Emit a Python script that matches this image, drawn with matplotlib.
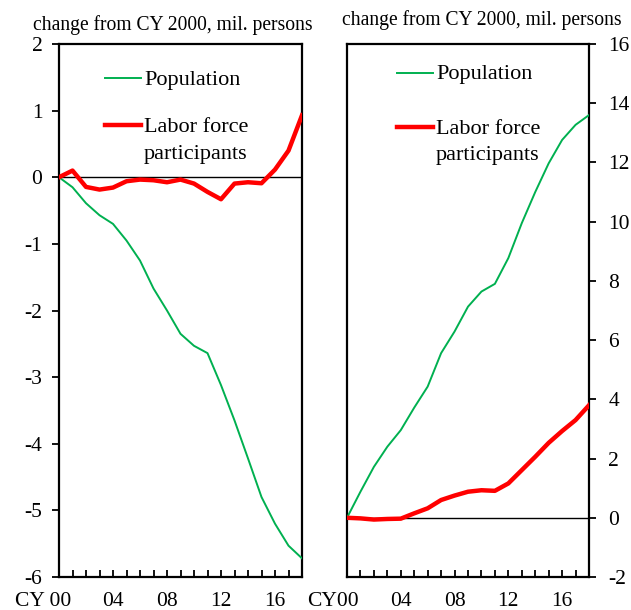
import numpy as np
import matplotlib
matplotlib.use("Agg")
import matplotlib.pyplot as plt
import matplotlib.transforms as mtransforms

plt.rcParams['font.family'] = ['Liberation Serif', 'DejaVu Serif']
plt.rcParams['axes.unicode_minus'] = False

# calendar years 2000..2018, change from CY2000 in millions of persons
years = np.arange(2000, 2019)

left_population = [0, -0.15, -0.39, -0.57, -0.70, -0.95, -1.25, -1.67, -2.00, -2.35,
                   -2.53, -2.64, -3.12, -3.65, -4.22, -4.80, -5.20, -5.53, -5.72]
left_labor = [0, 0.10, -0.145, -0.185, -0.155, -0.06, -0.035, -0.045, -0.075, -0.035,
              -0.095, -0.22, -0.33, -0.095, -0.075, -0.09, 0.115, 0.40, 0.93]

right_population = [0, 0.88, 1.72, 2.40, 2.96, 3.72, 4.43, 5.56, 6.29, 7.13,
                    7.64, 7.90, 8.77, 9.95, 11.0, 11.97, 12.76, 13.27, 13.6]
right_labor = [0, -0.02, -0.06, -0.04, -0.03, 0.15, 0.32, 0.60, 0.75, 0.88,
               0.93, 0.91, 1.16, 1.61, 2.06, 2.53, 2.93, 3.30, 3.80]

xtick_years = [2000, 2004, 2008, 2012, 2016]
left_xlabels = ['CY 00', '04', '08', '12', '16']
right_xlabels = ['CY00', '04', '08', '12', '16']
unit_label = 'change from CY 2000, mil. persons'

GREEN = '#00b050'
RED = '#ff0000'

fig = plt.figure(figsize=(6.31, 6.10), dpi=100)
W, H = 631, 610
ax1 = fig.add_axes([59 / W, 33 / H, 243 / W, 533 / H])
ax2 = fig.add_axes([347 / W, 33 / H, 242 / W, 533 / H])


def style(ax, ylim, yticks, labels, yside):
    ax.set_xlim(2000, 2018)
    ax.set_ylim(*ylim)
    ax.axhline(0, color='black', lw=1.0, zorder=1)
    for s in ax.spines.values():
        s.set_linewidth(1.6)
    ax.set_xticks(years, minor=True)
    ax.set_xticks(xtick_years)
    ax.set_xticklabels(labels)
    ax.tick_params(axis='x', which='both', direction='in', length=5, width=1.3,
                   labelsize=15.5, pad=11, top=False)
    ax.set_yticks(yticks)
    if yside == 'right':
        ax.yaxis.tick_right()
    ax.tick_params(axis='y', direction='out', length=5, width=1.3, labelsize=15.5,
                   pad=9 if yside == 'right' else 7)
    # shift the "CY" label so that the year sits on its tick
    lab = ax.get_xticklabels()[0]
    lab.set_horizontalalignment('right')
    lab.set_transform(lab.get_transform() +
                      mtransforms.ScaledTranslation(12 / 100, 0, fig.dpi_scale_trans))


def key(x0, y_pop, y_lab):
    # hand-made legend in figure pixels (from the top left)
    fig.add_artist(plt.Line2D([x0 / W, (x0 + 36) / W], [1 - y_pop / H] * 2,
                              color=GREEN, lw=1.4))
    fig.add_artist(plt.Line2D([x0 / W, (x0 + 36) / W], [1 - y_lab / H] * 2,
                              color=RED, lw=3.2))
    tx = (x0 + 39) / W
    fig.text(tx, 1 - (y_pop + 2) / H, 'Population', fontsize=16, va='center')
    fig.text(tx, 1 - (y_lab + 2) / H, 'Labor force', fontsize=16, va='center')
    fig.text(tx, 1 - (y_lab + 29) / H, 'participants', fontsize=16, va='center')


for ax, pop, lab, ylim, yticks, xl, side in [
        (ax1, left_population, left_labor, (-6, 2), range(-6, 3), left_xlabels, 'left'),
        (ax2, right_population, right_labor, (-2, 16), range(-2, 17, 2), right_xlabels, 'right')]:
    ax.plot(years, pop, color=GREEN, lw=1.4, zorder=3)
    ax.plot(years, lab, color=RED, lw=3.2, zorder=4)
    style(ax, ylim, yticks, xl, side)

key(105, 78, 125)
key(397, 73, 127)

fig.text(173 / W, 1 - 25 / H, unit_label, ha='center', va='center', fontsize=14.1)
fig.text(482 / W, 1 - 20 / H, unit_label, ha='center', va='center', fontsize=14.1)

fig.savefig('out.png', dpi=100)
